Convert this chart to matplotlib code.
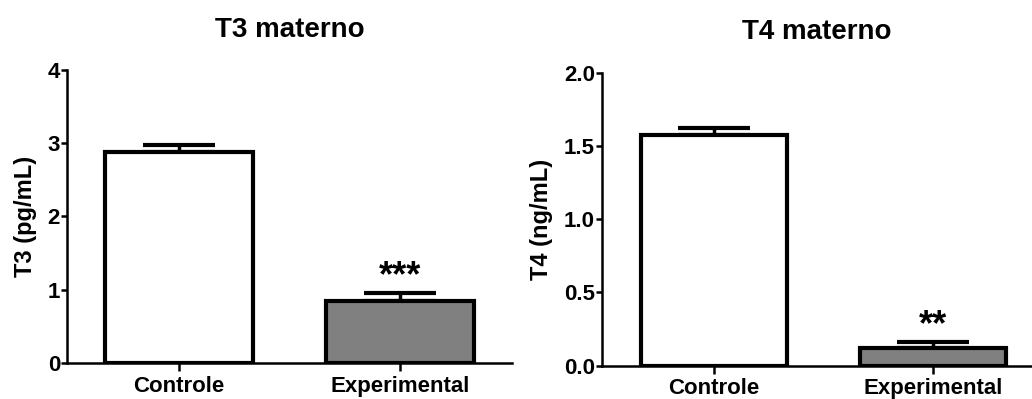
import matplotlib
matplotlib.use("Agg")
import matplotlib.pyplot as plt

plt.rcParams['font.family'] = ['Liberation Sans', 'DejaVu Sans']
plt.rcParams['font.weight'] = 'bold'

# data
groups = ["Controle", "Experimental"]
t3_mean = [2.88, 0.84]
t3_err = [0.09, 0.12]
t4_mean = [1.575, 0.123]
t4_err = [0.045, 0.037]
stars_t3 = ["", "***"]
stars_t4 = ["", "**"]
bar_colors = ["white", "#808080"]

fig = plt.figure(figsize=(10.32, 3.99), dpi=100)
ax1 = fig.add_axes([0.0649, 0.0902, 0.4312, 0.7344])
ax2 = fig.add_axes([0.5833, 0.0835, 0.4167, 0.7343])


def panel(ax, means, errs, stars, title, ylabel, ylim, yticks, yfmt, xlim):
    x = list(range(len(groups)))
    ax.bar(x, means, width=0.67, color=bar_colors, edgecolor="black",
           linewidth=3, zorder=2)
    ax.errorbar(x, means, yerr=[[0] * len(errs), errs], fmt="none",
                ecolor="black", elinewidth=2.5, capsize=26, capthick=3,
                zorder=1)
    for xi, m, e, s in zip(x, means, errs, stars):
        if s:
            ax.annotate(s, (xi, m + e), xytext=(0, -1), textcoords="offset points",
                        ha="center", va="bottom", fontsize=26, fontweight="bold")
    ax.set_xlim(*xlim)
    ax.set_ylim(*ylim)
    ax.set_yticks(yticks)
    ax.set_yticklabels([yfmt % v for v in yticks])
    ax.set_xticks(x)
    ax.set_xticklabels(groups)
    for side in ("top", "right"):
        ax.spines[side].set_visible(False)
    for side in ("left", "bottom"):
        ax.spines[side].set_linewidth(1.8)
    ax.tick_params(axis="both", width=1.8, labelsize=16)
    ax.tick_params(axis="y", length=4, pad=1)
    ax.tick_params(axis="x", length=6, pad=3)
    ax.set_ylabel(ylabel, fontsize=17, fontweight="bold", labelpad=8)
    ax.set_title(title, fontsize=20, fontweight="bold", pad=24)


panel(ax1, t3_mean, t3_err, stars_t3, "T3 materno", "T3 (pg/mL)",
      (0, 4), [0, 1, 2, 3, 4], "%d", (-0.507, 1.507))
panel(ax2, t4_mean, t4_err, stars_t4, "T4 materno", "T4 (ng/mL)",
      (0, 2), [0.0, 0.5, 1.0, 1.5, 2.0], "%.1f", (-0.511, 1.452))

fig.savefig("out.png", dpi=100)
